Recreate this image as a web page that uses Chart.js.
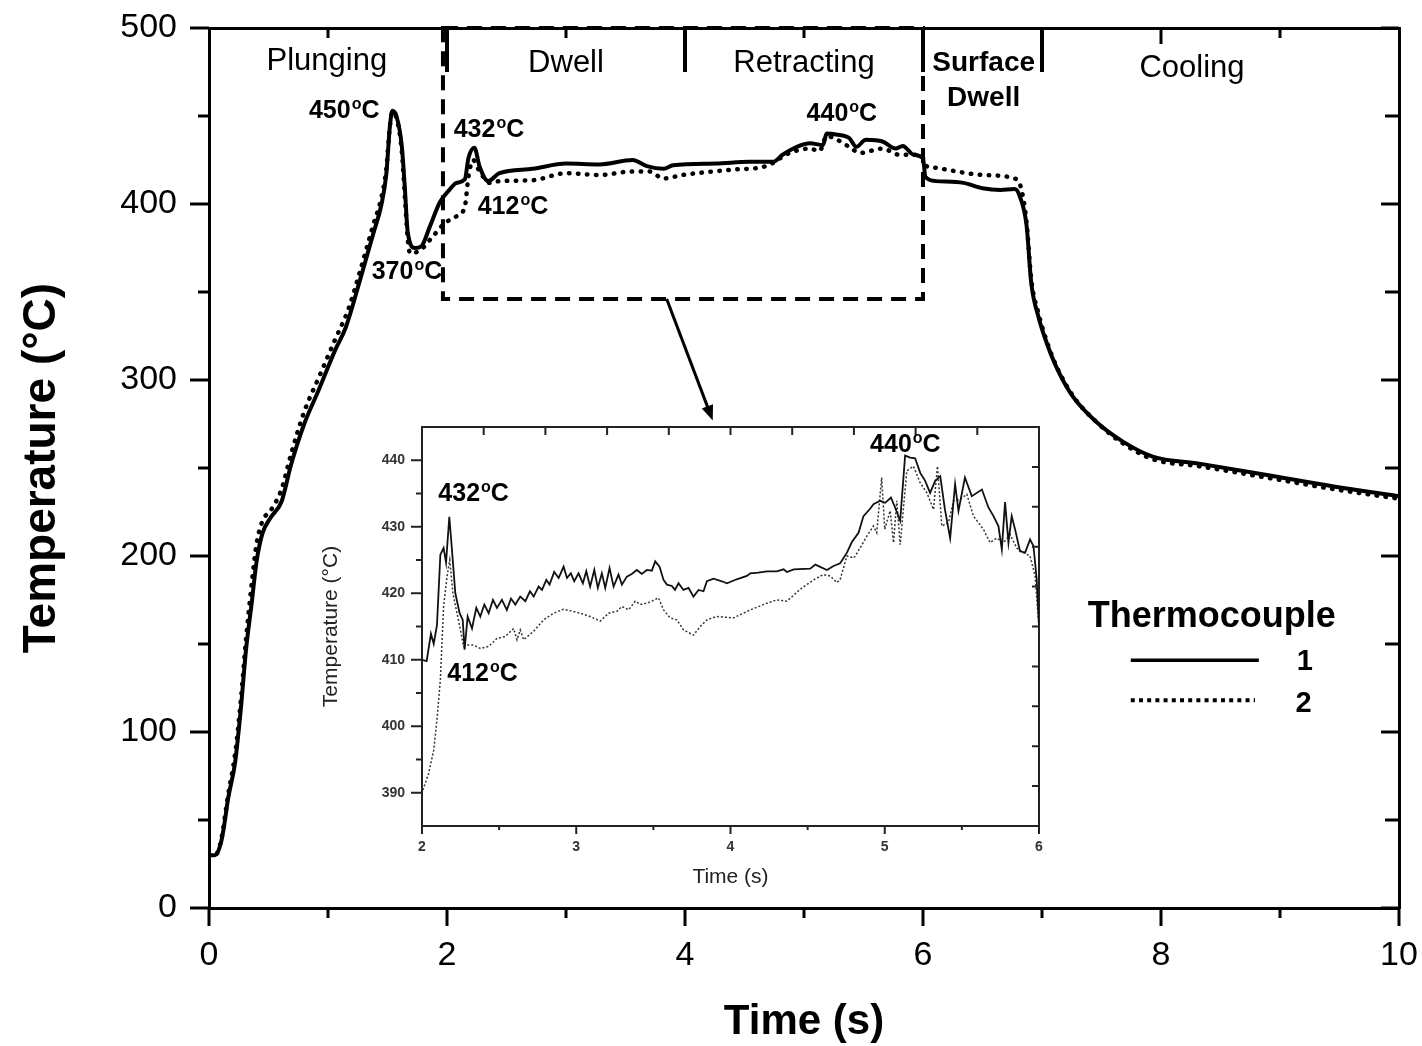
<!DOCTYPE html>
<html>
<head>
<meta charset="utf-8">
<title>Thermocouple temperature</title>
<script src="https://cdn.jsdelivr.net/npm/chart.js@4.4.1/dist/chart.umd.min.js"></script>
<style>
  html, body { margin: 0; padding: 0; background: #fff; }
  #wrap { position: relative; width: 1422px; height: 1046px; }
  #main { position: absolute; left: 0; top: 0; }
  #inset { position: absolute; left: 300px; top: 400px; }
</style>
</head>
<body>
<div id="wrap">
  <canvas id="main" width="1422" height="1046"></canvas>
  <canvas id="inset" width="750" height="500"></canvas>
</div>
<script>
// ---- main chart, thermocouple 1 (solid)
const tc1Time = [
  0, 0.05, 0.1, 0.13, 0.16, 0.22, 0.27, 0.31, 0.36, 0.4, 0.45,
  0.52, 0.61, 0.69, 0.8, 0.92, 1.06, 1.15, 1.27, 1.38, 1.45,
  1.49, 1.52, 1.54, 1.575, 1.62, 1.645, 1.67, 1.73, 1.785, 1.855,
  1.94, 2.02, 2.08, 2.15, 2.18, 2.23, 2.275, 2.345, 2.44, 2.72,
  3.0, 3.28, 3.56, 3.68, 3.82, 3.9, 4.26, 4.54, 4.74, 4.82,
  4.94, 5.05, 5.16, 5.19, 5.27, 5.38, 5.44, 5.52, 5.66, 5.77,
  5.83, 5.92, 6.0, 6.02, 6.11, 6.34, 6.5, 6.65, 6.77, 6.81,
  6.87, 6.91, 6.97, 7.04, 7.12, 7.26, 7.46, 7.68, 7.93, 8.32,
  8.89, 9.45, 10
];
const tc1Temp = [
  30, 30, 37, 48, 62, 83, 115, 146, 174, 197, 213,
  222, 231, 252, 275, 294, 317, 330, 357, 383, 400,
  417, 444, 453, 450, 433, 410, 384, 375, 376, 387,
  401, 408, 412, 414, 426, 432, 421, 413, 417.5, 420,
  423, 422.5, 425, 421.5, 420, 422, 423, 424, 424, 428,
  432.5, 434.5, 433.5, 440, 439.5, 437.5, 432.5, 436.5, 435.5, 431.5,
  433, 428, 426, 415.5, 413, 412, 409, 408, 408.5, 405,
  388, 355, 336, 321, 307.5, 290.5, 276, 265, 256.5, 252.5,
  246, 239.5, 234
];

// ---- main chart, thermocouple 2 (dotted)
const tc2Time = [
  0, 0.05, 0.1, 0.16, 0.22, 0.27, 0.31, 0.36, 0.4, 0.45,
  0.52, 0.61, 0.69, 0.8, 0.92, 1.06, 1.17, 1.27, 1.38, 1.45,
  1.49, 1.52, 1.54, 1.575, 1.62, 1.645, 1.67, 1.69, 1.78, 1.88,
  1.98, 2.08, 2.15, 2.18, 2.22, 2.27, 2.36, 2.44, 2.72, 3.0,
  3.28, 3.56, 3.7, 3.82, 3.98, 4.4, 4.68, 4.88, 5.05, 5.13,
  5.19, 5.38, 5.47, 5.66, 5.8, 5.94, 6.0, 6.03, 6.06, 6.5,
  6.77, 6.82, 6.87, 6.91, 6.97, 7.04, 7.12, 7.26, 7.46, 7.68,
  7.93, 8.32, 8.89, 9.45, 10
];
const tc2Temp = [
  30, 30, 38, 64, 88, 120, 152, 185, 207, 220,
  226, 238, 258, 282, 301, 323, 340, 362, 388, 404,
  420, 444, 452, 449, 430, 405, 380, 372, 374, 381.5,
  389, 393, 398.5, 415.5, 425, 419, 412, 413, 413.5, 417.5,
  416.5, 418.5, 418.5, 414.5, 416.5, 419.5, 421.5, 429, 431.5, 430,
  438.5, 432.5, 429, 431.5, 428, 428, 426, 421.5, 421, 416.5,
  414.5, 410, 390, 357, 338, 322, 308, 291, 276, 264,
  255, 251, 244.5, 238, 232.5
];

// ---- inset (2 - 6 s), thermocouple 1
const zoomTime1 = [
  2.0, 2.03, 2.058, 2.076, 2.097, 2.119, 2.14, 2.156, 2.177, 2.194,
  2.216, 2.244, 2.264, 2.276, 2.296, 2.324, 2.352, 2.378, 2.404, 2.432,
  2.46, 2.486, 2.518, 2.55, 2.577, 2.605, 2.637, 2.67, 2.7, 2.724,
  2.756, 2.778, 2.806, 2.827, 2.857, 2.886, 2.918, 2.94, 2.965, 2.987,
  3.015, 3.043, 3.065, 3.09, 3.117, 3.14, 3.166, 3.188, 3.216, 3.242,
  3.274, 3.296, 3.328, 3.36, 3.393, 3.425, 3.458, 3.49, 3.512, 3.54,
  3.566, 3.588, 3.62, 3.64, 3.663, 3.695, 3.728, 3.76, 3.793, 3.825,
  3.847, 3.89, 3.944, 3.977, 4.04, 4.106, 4.128, 4.18, 4.236, 4.3,
  4.344, 4.366, 4.41, 4.517, 4.55, 4.625, 4.668, 4.711, 4.755, 4.787,
  4.83, 4.862, 4.905, 4.927, 4.97, 5.003, 5.04, 5.067, 5.1, 5.132,
  5.165, 5.197, 5.23, 5.262, 5.294, 5.327, 5.36, 5.39, 5.424, 5.456,
  5.478, 5.52, 5.564, 5.63, 5.672, 5.705, 5.737, 5.759, 5.78, 5.802,
  5.823, 5.845, 5.877, 5.91, 5.942, 5.964, 5.985, 6.0
];
const zoomTemp1 = [
  410, 409.8, 413.9, 412.4, 415.2, 425.8, 426.8, 424.6, 431.5, 426.6,
  420, 417, 416, 411.5, 416.5, 414.7, 417.8, 416.5, 418.3, 417,
  419, 417.8, 419, 417.5, 419.2, 418.3, 419.5, 418.8, 420.3, 419.5,
  421, 420.5, 422, 421.3, 423.2, 422.3, 424, 422.3, 423, 421.8,
  423, 421.5, 423.3, 421, 423.5, 420.8, 423, 420.8, 423.8, 421,
  422.8, 421.3, 422.5, 422.9, 423.5, 422.9, 423.5, 423.4, 424.8, 424,
  422, 421.3, 421.1, 420.5, 421.5, 420.5, 420.8, 419.5, 420.5, 420.3,
  421.8, 422.2, 421.8, 421.5, 422.1, 422.6, 423, 423.1, 423.3, 423.3,
  423.6, 423.2, 423.6, 423.7, 424.3, 423.5, 424.1, 424.5, 426.1, 427.7,
  429.1, 431.6, 432.7, 433.4, 433.9, 433.6, 434.4, 432.9, 430.9, 440.7,
  440.4, 440.3, 438.1, 436.9, 435.1, 436.9, 437.6, 432.6, 428.3, 436.4,
  432.4, 437.4, 434.6, 435.6, 432.9, 431.6, 430.1, 426.6, 433.7, 427.6,
  431.6, 429.6, 426.3, 426.1, 428.1, 427.1, 422.1, 415
];

// ---- inset (2 - 6 s), thermocouple 2
const zoomTime2 = [
  2.006, 2.043, 2.076, 2.097, 2.119, 2.14, 2.162, 2.18, 2.2, 2.236,
  2.27, 2.29, 2.335, 2.378, 2.432, 2.486, 2.54, 2.594, 2.616, 2.637,
  2.659, 2.724, 2.788, 2.853, 2.918, 2.972, 3.026, 3.09, 3.155, 3.21,
  3.264, 3.296, 3.34, 3.382, 3.415, 3.469, 3.533, 3.566, 3.609, 3.652,
  3.695, 3.76, 3.804, 3.847, 3.91, 4.02, 4.128, 4.236, 4.3, 4.366,
  4.452, 4.538, 4.6, 4.646, 4.69, 4.711, 4.755, 4.8, 4.84, 4.884,
  4.927, 4.948, 4.98, 5.0, 5.035, 5.057, 5.078, 5.1, 5.143, 5.186,
  5.23, 5.273, 5.316, 5.342, 5.37, 5.413, 5.446, 5.489, 5.532, 5.575,
  5.64, 5.683, 5.726, 5.77, 5.813, 5.856, 5.9, 5.942, 5.975, 5.996
];
const zoomTemp2 = [
  390.4, 392.9, 396.4, 401, 407, 418, 422.5, 425, 420, 416,
  412, 412.2, 412.2, 411.7, 412, 413.2, 413.5, 414.7, 413, 414.5,
  413, 414.3, 416, 417, 417.6, 417.3, 417, 416.5, 415.8, 417,
  417.3, 418, 417.5, 418.8, 418.3, 418.6, 419.3, 417.5, 416.3, 416,
  414.5, 413.7, 415, 416, 416.5, 416.3, 417.5, 418.5, 419, 418.8,
  420.6, 422, 422.8, 422.6, 421.6, 422.1, 425.6, 425.3, 426.8, 428.6,
  430.1, 429.1, 437.4, 429.6, 432.4, 427.6, 433.9, 427.3, 438.4, 439.1,
  436.6, 435.1, 432.6, 439.1, 430.1, 430.6, 433.9, 434.1, 434.9, 431.6,
  429.6, 427.6, 428.3, 427.6, 428.8, 426.8, 426.1, 425.6, 422.6, 416
];

// ticks and phases
const mainXTicks = [0, 2, 4, 6, 8, 10];
const mainYTicks = [0, 100, 200, 300, 400, 500];
const insetXTicks = [2, 3, 4, 5, 6];
const insetYTicks = [390, 400, 410, 420, 430, 440];
const phaseBounds = [2, 4, 6, 7];
const phaseNames = ['Plunging', 'Dwell', 'Retracting', 'Cooling'];
const seriesNames = ['1', '2'];

const FONT = '"Liberation Sans", Arial, Helvetica, sans-serif';
const pts = (xs, ys) => xs.map((x, i) => ({ x: x, y: ys[i] }));

// little tick marks, 'h' = vertical marks along a horizontal axis
function marks(ctx, pixels, base, delta, orient, width) {
  ctx.lineWidth = width;
  ctx.beginPath();
  pixels.forEach(p => {
    if (orient === 'h') { ctx.moveTo(p, base); ctx.lineTo(p, base + delta); }
    else { ctx.moveTo(base, p); ctx.lineTo(base + delta, p); }
  });
  ctx.stroke();
}

// "450" + superscript o + "C"
function degLabel(ctx, num, x, y, size) {
  ctx.textAlign = 'left';
  ctx.textBaseline = 'alphabetic';
  ctx.font = 'bold ' + size + 'px ' + FONT;
  ctx.fillText(num, x, y);
  let w = ctx.measureText(num).width + 1;
  const s = Math.round(size * 0.62);
  ctx.font = 'bold ' + s + 'px ' + FONT;
  ctx.fillText('o', x + w, y - size * 0.36);
  w += ctx.measureText('o').width;
  ctx.font = 'bold ' + size + 'px ' + FONT;
  ctx.fillText('C', x + w, y);
}

function fixedTicks(values) {
  return s => { s.ticks = values.map(v => ({ value: v })); };
}

// invisible tick length = gap between axis and labels (keeps layout padding untouched)
const gap = len => ({ display: true, drawOnChartArea: false, drawTicks: true,
                      tickLength: len, tickColor: 'rgba(0,0,0,0)' });
const plain = { display: true, drawOnChartArea: false, drawTicks: false };

const mainDecor = {
  id: 'mainDecor',
  afterDraw(chart) {
    const ctx = chart.ctx, a = chart.chartArea;
    const X = v => chart.scales.x.getPixelForValue(v);
    const Y = v => chart.scales.y.getPixelForValue(v);
    ctx.save();
    ctx.strokeStyle = '#000';
    ctx.fillStyle = '#000';
    ctx.lineCap = 'butt';

    // ticks: bottom/left outward, top/right inward
    marks(ctx, mainXTicks.map(X), a.bottom, 18, 'h', 3);
    marks(ctx, [1, 3, 5, 7, 9].map(X), a.bottom, 10, 'h', 3);
    marks(ctx, [8].map(X), a.top, 16, 'h', 3);
    marks(ctx, [1, 3, 5, 9].map(X), a.top, 10, 'h', 3);
    marks(ctx, mainYTicks.map(Y), a.left, -19, 'v', 3);
    marks(ctx, [50, 150, 250, 350, 450].map(Y), a.left, -11, 'v', 3);
    marks(ctx, mainYTicks.map(Y), a.right, -18, 'v', 3);
    marks(ctx, [50, 150, 250, 350, 450].map(Y), a.right, -14, 'v', 3);

    // phase dividers
    marks(ctx, phaseBounds.map(X), a.top, Y(475) - a.top, 'h', 4);

    // dashed zoom box
    ctx.setLineDash([15, 9]);
    ctx.lineWidth = 4;
    ctx.strokeRect(X(1.966), Y(500), X(6.0) - X(1.966), Y(346) - Y(500));
    ctx.setLineDash([]);

    // arrow to inset
    const x0 = X(3.846), y0 = Y(346), x1 = X(4.233), y1 = Y(277);
    const ang = Math.atan2(y1 - y0, x1 - x0);
    ctx.lineWidth = 3;
    ctx.beginPath();
    ctx.moveTo(x0, y0);
    ctx.lineTo(x1 - 10 * Math.cos(ang), y1 - 10 * Math.sin(ang));
    ctx.stroke();
    ctx.beginPath();
    ctx.moveTo(x1, y1);
    ctx.lineTo(x1 - 15 * Math.cos(ang) + 6 * Math.sin(ang), y1 - 15 * Math.sin(ang) - 6 * Math.cos(ang));
    ctx.lineTo(x1 - 15 * Math.cos(ang) - 6 * Math.sin(ang), y1 - 15 * Math.sin(ang) + 6 * Math.cos(ang));
    ctx.closePath();
    ctx.fill();

    // phase names
    ctx.font = '31px ' + FONT;
    ctx.textAlign = 'center';
    ctx.textBaseline = 'middle';
    ctx.fillText(phaseNames[0], X(0.99), Y(480.8));
    ctx.fillText(phaseNames[1], X(3.0), Y(480));
    ctx.fillText(phaseNames[2], X(5.0), Y(480));
    ctx.fillText(phaseNames[3], X(8.26), Y(477));
    ctx.font = 'bold 28px ' + FONT;
    ctx.fillText('Surface', X(6.51), Y(480.2));
    ctx.fillText('Dwell', X(6.51), Y(459.8));

    // peak / valley temperatures
    degLabel(ctx, '450', X(0.84), Y(448.9), 25);
    degLabel(ctx, '432', X(2.056), Y(438.1), 25);
    degLabel(ctx, '412', X(2.258), Y(394.4), 25);
    degLabel(ctx, '370', X(1.367), Y(357.4), 25);
    degLabel(ctx, '440', X(5.022), Y(447.3), 25);

    // legend
    ctx.textAlign = 'left';
    ctx.textBaseline = 'alphabetic';
    ctx.font = 'bold 36px ' + FONT;
    ctx.fillText('Thermocouple', X(7.384), Y(159.6));
    ctx.lineWidth = 3.5;
    ctx.beginPath();
    ctx.moveTo(X(7.746), Y(140.7));
    ctx.lineTo(X(8.822), Y(140.7));
    ctx.stroke();
    ctx.lineWidth = 4;
    ctx.setLineDash([4, 4.2]);
    ctx.beginPath();
    ctx.moveTo(X(7.746), Y(118));
    ctx.lineTo(X(8.79), Y(118));
    ctx.stroke();
    ctx.setLineDash([]);
    ctx.font = 'bold 29px ' + FONT;
    ctx.fillText(chart.data.datasets[0].label, X(9.14), Y(135.1));
    ctx.fillText(chart.data.datasets[1].label, X(9.13), Y(111.3));
    ctx.restore();
  }
};

const insetDecor = {
  id: 'insetDecor',
  beforeDraw(chart) {
    const ctx = chart.ctx, a = chart.chartArea;
    ctx.save();
    ctx.fillStyle = '#fff';
    ctx.fillRect(a.left, a.top, a.right - a.left, a.bottom - a.top);
    ctx.restore();
  },
  afterDraw(chart) {
    const ctx = chart.ctx, a = chart.chartArea;
    const X = v => chart.scales.x.getPixelForValue(v);
    const Y = v => chart.scales.y.getPixelForValue(v);
    ctx.save();
    ctx.strokeStyle = '#222';
    ctx.fillStyle = '#000';
    marks(ctx, insetXTicks.map(X), a.bottom, 8, 'h', 2);
    marks(ctx, [2.5, 3.5, 4.5, 5.5].map(X), a.bottom, 4, 'h', 2);
    marks(ctx, insetYTicks.map(Y), a.left, -11, 'v', 2);
    marks(ctx, [395, 405, 415, 425, 435].map(Y), a.left, -6, 'v', 2);
    marks(ctx, [2.4, 2.8, 3.2, 3.6, 4.0, 4.4, 4.8, 5.2, 5.6].map(X), a.top, 8, 'h', 2);
    marks(ctx, [391, 397, 403, 409, 415, 421, 427, 433, 439].map(Y), a.right, -7, 'v', 2);

    degLabel(ctx, '432', X(2.106), Y(433.8), 25);
    degLabel(ctx, '412', X(2.164), Y(406.8), 25);
    degLabel(ctx, '440', X(4.905), Y(441.2), 25);
    ctx.restore();
  }
};

new Chart(document.getElementById('main'), {
  type: 'line',
  data: {
    datasets: [
      {
        label: seriesNames[0],
        data: pts(tc1Time, tc1Temp),
        borderColor: '#000',
        borderWidth: 4,
        pointRadius: 0,
        cubicInterpolationMode: 'monotone',
        fill: false
      },
      {
        label: seriesNames[1],
        data: pts(tc2Time, tc2Temp),
        borderColor: '#000',
        borderWidth: 4.5,
        borderDash: [0.5, 8.5],
        borderCapStyle: 'round',
        pointRadius: 0,
        cubicInterpolationMode: 'monotone',
        fill: false
      }
    ]
  },
  options: {
    responsive: false,
    animation: false,
    devicePixelRatio: 1,
    layout: { padding: 0 },
    plugins: { legend: { display: false }, tooltip: { enabled: false } },
    scales: {
      x: {
        type: 'linear', position: 'bottom', min: 0, max: 10,
        afterBuildTicks: fixedTicks(mainXTicks),
        afterFit: s => { s.height = 138; },
        ticks: { font: { size: 34, family: FONT }, color: '#000', padding: 0, maxRotation: 0 },
        grid: gap(27),
        border: { display: true, width: 3, color: '#000' },
        title: { display: true, text: 'Time (s)', color: '#000', padding: 0,
                 font: { size: 42, weight: 'bold', family: FONT, lineHeight: 1.1 } }
      },
      x2: {
        type: 'linear', position: 'top', min: 0, max: 10,
        afterFit: s => { s.height = 28; },
        ticks: { display: false },
        grid: plain,
        border: { display: true, width: 3, color: '#000' }
      },
      y: {
        type: 'linear', position: 'left', min: 0, max: 500,
        afterBuildTicks: fixedTicks(mainYTicks),
        afterFit: s => { s.width = 209; },
        ticks: { font: { size: 34, family: FONT }, color: '#000', padding: 0 },
        grid: gap(32),
        border: { display: true, width: 3, color: '#000' },
        title: { display: true, text: 'Temperature (°C)', color: '#000', padding: { top: 15, bottom: 0 },
                 font: { size: 46, weight: 'bold', family: FONT } }
      },
      y2: {
        type: 'linear', position: 'right', min: 0, max: 500,
        afterFit: s => { s.width = 23; },
        ticks: { display: false },
        grid: plain,
        border: { display: true, width: 3, color: '#000' }
      }
    }
  },
  plugins: [mainDecor]
});

new Chart(document.getElementById('inset'), {
  type: 'line',
  data: {
    datasets: [
      {
        label: seriesNames[0],
        data: pts(zoomTime1, zoomTemp1),
        borderColor: '#111',
        borderWidth: 1.8,
        pointRadius: 0,
        tension: 0,
        fill: false
      },
      {
        label: seriesNames[1],
        data: pts(zoomTime2, zoomTemp2),
        borderColor: '#333',
        borderWidth: 1.5,
        borderDash: [2, 2],
        pointRadius: 0,
        tension: 0,
        fill: false
      }
    ]
  },
  options: {
    responsive: false,
    animation: false,
    devicePixelRatio: 1,
    layout: { padding: 0 },
    plugins: { legend: { display: false }, tooltip: { enabled: false } },
    scales: {
      x: {
        type: 'linear', position: 'bottom', min: 2, max: 6,
        afterBuildTicks: fixedTicks(insetXTicks),
        afterFit: s => { s.height = 74; },
        ticks: { font: { size: 14, weight: 'bold', family: FONT }, color: '#333', padding: 0, maxRotation: 0 },
        grid: gap(13),
        border: { display: true, width: 2, color: '#222' },
        title: { display: true, text: 'Time (s)', color: '#222', padding: { top: 0, bottom: 10 },
                 font: { size: 21, family: FONT } }
      },
      x2: {
        type: 'linear', position: 'top', min: 2, max: 6,
        afterFit: s => { s.height = 27; },
        ticks: { display: false },
        grid: plain,
        border: { display: true, width: 2, color: '#222' }
      },
      y: {
        type: 'linear', position: 'left', min: 385, max: 445,
        afterBuildTicks: fixedTicks(insetYTicks),
        afterFit: s => { s.width = 122; },
        ticks: { font: { size: 14, weight: 'bold', family: FONT }, color: '#333', padding: 0 },
        grid: gap(17),
        border: { display: true, width: 2, color: '#222' },
        title: { display: true, text: 'Temperature (°C)', color: '#222', padding: { top: 19, bottom: 0 },
                 font: { size: 21, family: FONT } }
      },
      y2: {
        type: 'linear', position: 'right', min: 385, max: 445,
        afterFit: s => { s.width = 11; },
        ticks: { display: false },
        grid: plain,
        border: { display: true, width: 2, color: '#222' }
      }
    }
  },
  plugins: [insetDecor]
});
</script>
</body>
</html>
